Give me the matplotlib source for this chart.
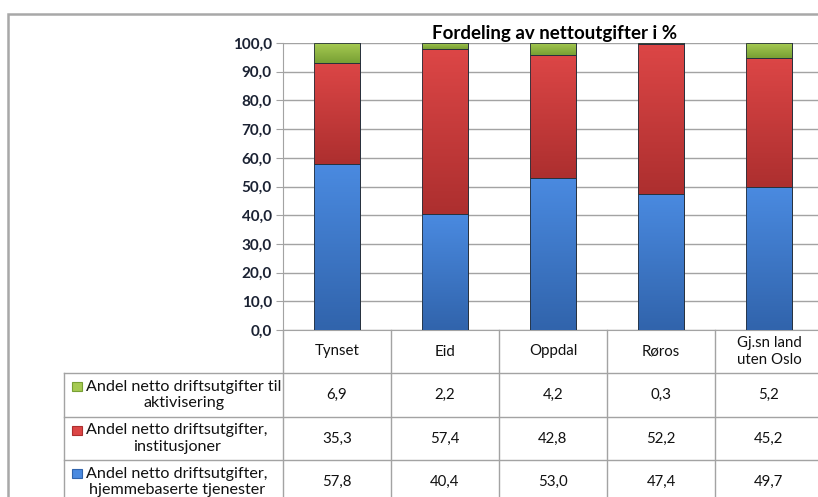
import numpy as np
import matplotlib
matplotlib.use("Agg")
import matplotlib.pyplot as plt
from matplotlib.colors import LinearSegmentedColormap
from matplotlib.patches import Rectangle

plt.rcParams['font.family'] = ['Lato', 'DejaVu Sans']

# data
steder = ['Tynset', 'Eid', 'Oppdal', 'Røros', 'Gj.sn land\nuten Oslo']
hjemmebasert = [57.8, 40.4, 53.0, 47.4, 49.7]
institusjon = [35.3, 57.4, 42.8, 52.2, 45.2]
aktivisering = [6.9, 2.2, 4.2, 0.3, 5.2]
serienavn = ['Andel netto driftsutgifter til\naktivisering',
             'Andel netto driftsutgifter,\ninstitusjoner',
             'Andel netto driftsutgifter,\nhjemmebaserte tjenester']
tittel = 'Fordeling av nettoutgifter i %'

# farger (lys topp, mørk bunn)
blaa = ('#4a8ae0', '#3164ac')
roed = ('#dc4646', '#ad2f2f')
groenn = ('#a6ca52', '#78a034')
linjefarge = '#a3a3a3'
tekstfarge = '#1b2233'

W, H = 818, 497
fig = plt.figure(figsize=(W / 100, H / 100), dpi=100)
ax = fig.add_axes([283 / W, (H - 330) / H, 540 / W, 287 / H])

x = np.arange(len(steder))
bw = 0.42


def gradient_bars(x, hoyde, bunn, farger):
    cmap = LinearSegmentedColormap.from_list('g', farger)
    bars = ax.bar(x, hoyde, bw, bottom=bunn, color=farger[0],
                  edgecolor='#26303c', linewidth=0.6, zorder=3)
    grad = np.linspace(0, 1, 64).reshape(-1, 1)
    for b in bars:
        x0, y0 = b.get_x(), b.get_y()
        x1, y1 = x0 + b.get_width(), y0 + b.get_height()
        if b.get_height() <= 0:
            continue
        im = ax.imshow(grad, cmap=cmap, aspect='auto', origin='upper',
                       extent=[x0, x1, y0, y1], zorder=3.5)
        im.set_clip_path(b)
        ax.add_patch(Rectangle((x0, y0), x1 - x0, y1 - y0, fill=False,
                               edgecolor='#26303c', linewidth=0.6, zorder=4))
    return bars


bunn2 = np.array(hjemmebasert)
bunn3 = bunn2 + np.array(institusjon)
gradient_bars(x, hjemmebasert, 0, blaa)
gradient_bars(x, institusjon, bunn2, roed)
gradient_bars(x, aktivisering, bunn3, groenn)

ax.set_xlim(-0.5, 4.5)
ax.set_ylim(0, 100)
ax.set_yticks(np.arange(0, 101, 10))
ax.set_yticklabels([f'{v:.1f}'.replace('.', ',') for v in np.arange(0, 101, 10)],
                   fontsize=11, fontweight='bold', color=tekstfarge)
ax.set_xticks([])
ax.yaxis.grid(True, color=linjefarge, linewidth=1, zorder=0)
ax.set_axisbelow(True)
ax.tick_params(axis='y', length=5, color=linjefarge, pad=3)
for s in ['top', 'right']:
    ax.spines[s].set_visible(False)
ax.spines['left'].set_color(linjefarge)
ax.spines['bottom'].set_color(linjefarge)

fig.text(555 / W, 1 - 34 / H, tittel, ha='center', va='center',
         fontsize=13.5, fontweight='bold', color='black')

# tabell under diagrammet
tr = ax.get_xaxis_transform()


def fy(px):
    return (330 - px) / 287


def fx(px):
    return (px - 283) / 108 - 0.5


rader = [330, 373, 417, 460, 504]
venstre = fx(64)
for y in rader[1:]:
    ax.plot([venstre, 5.0], [fy(y), fy(y)], color=linjefarge, lw=1,
            transform=tr, clip_on=False)
for k in range(len(steder)):
    ax.plot([k - 0.5, k - 0.5], [0, fy(rader[-1])], color=linjefarge, lw=1,
            transform=tr, clip_on=False)
ax.plot([venstre, venstre], [fy(rader[1]), fy(rader[-1])], color=linjefarge,
        lw=1, transform=tr, clip_on=False)

for k, navn in enumerate(steder):
    ax.text(k, fy((rader[0] + rader[1]) / 2), navn, transform=tr,
            ha='center', va='center', fontsize=10.8, color='#111111',
            linespacing=1.3, clip_on=False)

tabellrader = [aktivisering, institusjon, hjemmebasert]
farger = [groenn, roed, blaa]
for r, (verdier, navn, f) in enumerate(zip(tabellrader, serienavn, farger)):
    ym = (rader[r + 1] + rader[r + 2]) / 2
    for k, v in enumerate(verdier):
        ax.text(k, fy(ym), f'{v:.1f}'.replace('.', ','), transform=tr,
                ha='center', va='center', fontsize=10.8, color='#111111',
                clip_on=False)
    ax.text(fx(86), fy(ym), navn, transform=tr, ha='left', va='center',
            multialignment='center', fontsize=11.6, color='#111111',
            linespacing=1.2, clip_on=False)
    ax.add_patch(Rectangle((fx(72), fy(ym - 4)), 10 / 108, 9 / 287,
                           transform=tr, facecolor=f[0], edgecolor=f[1],
                           lw=0.8, clip_on=False))

# ramme rundt diagramområdet
fig.add_artist(Rectangle((8 / W, -0.1), 1.2, 1 - 14 / H + 0.1,
                         transform=fig.transFigure, fill=False,
                         edgecolor='#a8a8a8', lw=1.8))

fig.savefig('out.png', dpi=100)
